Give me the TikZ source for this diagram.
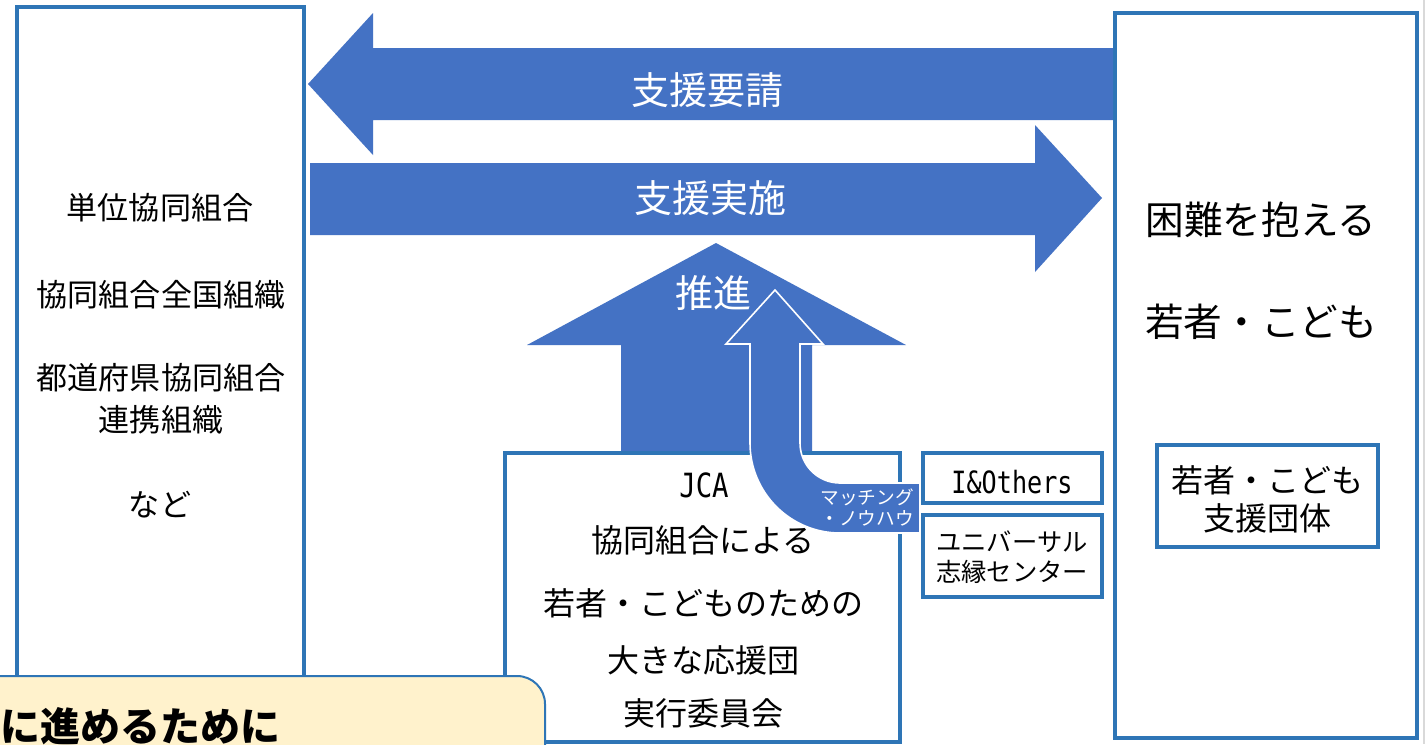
\documentclass[tikz,border=0pt]{standalone}
\usepackage{fontspec}
\setmainfont{Noto Sans CJK JP}
\newfontfamily\monofont[FakeStretch=0.82]{DejaVu Sans Mono}
\usetikzlibrary{fit}
\definecolor{arrowblue}{HTML}{4472C4}
\definecolor{boxblue}{HTML}{2E75B6}
\definecolor{noteyellow}{HTML}{FFF2CC}
\tikzset{
  framebox/.style={draw=boxblue, line width=2.8pt, inner sep=0pt},
  blockarrow/.style={fill=arrowblue, draw=none},
  lbl/.style={inner sep=0pt, align=center},
  fsLeft/.style={font=\fontsize{23.3pt}{31.5pt}\selectfont, text height=20.5pt, text depth=2.8pt},
  fsArrow/.style={font=\fontsize{28.5pt}{34pt}\selectfont, text=white, text height=25.1pt, text depth=3.4pt},
  fsRight/.style={font=\fontsize{29pt}{34pt}\selectfont, text height=25.5pt, text depth=3.5pt},
  fsMid/.style={font=\fontsize{24pt}{29pt}\selectfont, text height=21.1pt, text depth=2.9pt},
  fsSmallbox/.style={font=\fontsize{19pt}{22.5pt}\selectfont, text height=16.7pt, text depth=2.3pt},
  fsTiny/.style={font=\fontsize{14pt}{16pt}\selectfont, text=white, text height=12.3pt, text depth=1.7pt},
  fsMonoBig/.style={font=\monofont\fontsize{25pt}{29pt}\selectfont, text height=18.2pt, text depth=0pt},
  fsMono/.style={font=\monofont\fontsize{23pt}{27pt}\selectfont, text height=16.8pt, text depth=0pt},
  fsNote/.style={font=\bfseries\fontsize{30pt}{34pt}\selectfont, text height=26.4pt, text depth=3.6pt},
}
\begin{document}
\begin{tikzpicture}[x=0.75pt, y=-0.75pt]
\useasboundingbox (0,0) rectangle (1427,744);
\clip (0,0) rectangle (1427,744);
\fill[white] (0,0) rectangle (1427,744);
\draw[black!15, line width=1.2pt] (1424,0) -- (1424,744);

% block arrows between the two side boxes
\fill[blockarrow] (308,84) -- (373,13) -- (373,48) -- (1115,48) -- (1115,120) -- (373,120) -- (373,155) -- cycle;
\fill[blockarrow] (310,163) -- (1035,163) -- (1035,125) -- (1102,198) -- (1035,272) -- (1035,235) -- (310,235) -- cycle;
% big up arrow
\fill[blockarrow] (716,243) -- (906,345) -- (812,345) -- (812,453) -- (621,453) -- (621,345) -- (527,345) -- cycle;

% main boxes
\node[framebox, fit={(17,7)(304,738)}] (left) {};
\node[framebox, fit={(1115,13)(1417,738)}] (right) {};
\node[framebox, fill=white, fit={(505,453)(900,742)}] (jca) {};
\node[framebox, fit={(1157,445)(1378,547)}] (support) {};

% curved arrow
\filldraw[fill=arrowblue, draw=white, line width=1.2pt]
  (775,290) -- (823,344) -- (800,344) -- (800,443)
  .. controls (800,465.1) and (817.9,483) .. (840,483)
  -- (920,483) -- (920,533) -- (840,533)
  .. controls (790.3,533) and (750,492.7) .. (750,443)
  -- (750,344) -- (726,344) -- cycle;

\node[framebox, fit={(923,453)(1102,503)}] (io) {};
\node[framebox, fit={(923,515)(1102,597)}] (uc) {};

% texts
\node[lbl, fsLeft] (l1) at (160,208) {単位協同組合};
\node[lbl, fsLeft] (l2) at (161,295) {協同組合全国組織};
\node[lbl, fsLeft] (l3) at (161,378) {都道府県協同組合};
\node[lbl, fsLeft] (l4) at (161,420) {連携組織};
\node[lbl, fsLeft] (l5) at (160,505) {など};

\node[lbl, fsArrow] (req) at (707,90) {支援要請};
\node[lbl, fsArrow] (impl) at (710,198) {支援実施};
\node[lbl, fsArrow] (push) at (713,293) {推進};

\node[lbl, fsRight] (r1) at (1261,220) {困難を抱える};
\node[lbl, fsRight] (r2) at (1261,322) {若者・こども};
\node[lbl, fsMid] (s1) at (1267,480) {若者・こども};
\node[lbl, fsMid] (s2) at (1267,518) {支援団体};

\node[lbl, fsMonoBig] (j0) at (704,485) {JCA};
\node[lbl, fsMid] (j1) at (703,540) {協同組合による};
\node[lbl, fsMid] (j2) at (703,603) {若者・こどものための};
\node[lbl, fsMid] (j3) at (703,660) {大きな応援団};
\node[lbl, fsMid] (j4) at (703,713) {実行委員会};

\node[lbl, fsTiny] (m1) at (867,497) {マッチング};
\node[lbl, fsTiny] (m2) at (867,518) {・ノウハウ};

\node[lbl, fsMono] (ioText) at (1012,482) {I\&Others};
\node[lbl, fsSmallbox] (u1) at (1012,542) {ユニバーサル};
\node[lbl, fsSmallbox] (u2) at (1012,572) {志縁センター};

% note box at lower left
\node[fill=noteyellow, draw=boxblue, line width=1.5pt, rounded corners=21pt, inner sep=0pt, fit={(-40,676)(545,800)}] (note) {};
\node[lbl, fsNote, anchor=west] (noteText) at (0,726) {に進めるために};
\end{tikzpicture}
\end{document}
